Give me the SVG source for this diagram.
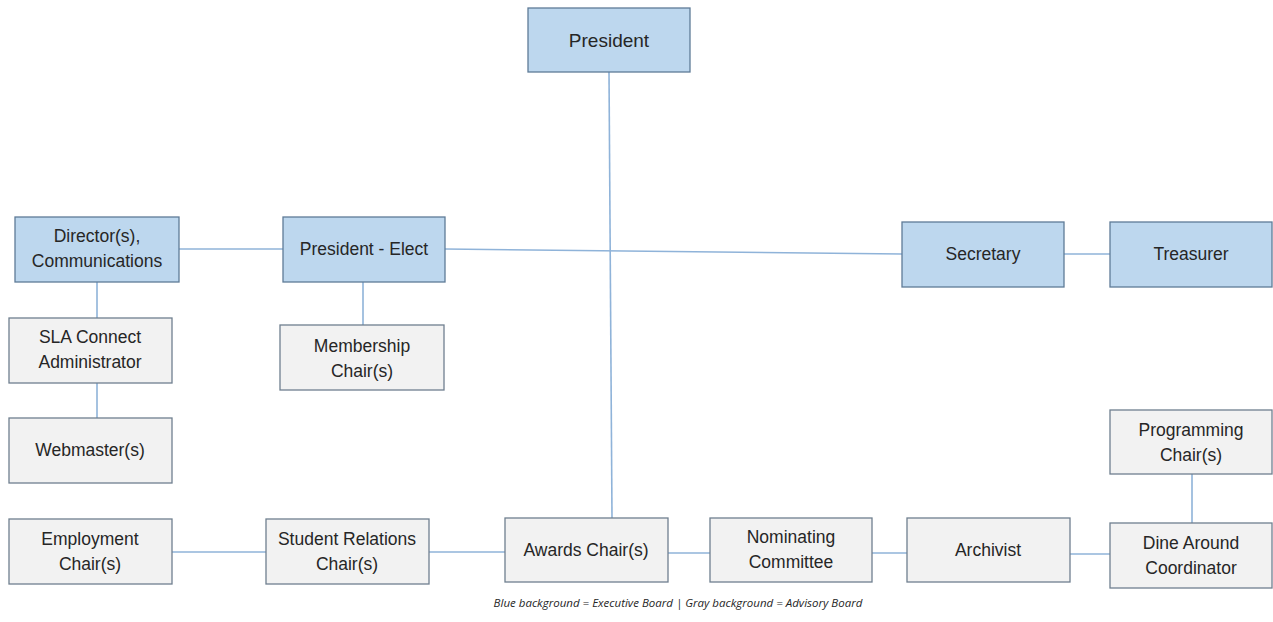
<svg xmlns="http://www.w3.org/2000/svg" width="1273" height="622" viewBox="0 0 1273 622">
<style>
.exec{fill:#bdd7ee;stroke:#5f7b97;stroke-width:1.3}
.adv{fill:#f2f2f2;stroke:#6f7f8f;stroke-width:1.3}
.t{font-family:"Liberation Sans",Arial,sans-serif;font-size:17.5px;fill:#262626;text-anchor:middle}
.c{stroke:#8fb3d9;stroke-width:1.6;fill:none}
.cap{font-family:"Open Sans","Liberation Sans",sans-serif;font-style:italic;font-size:11.5px;fill:#262626;text-anchor:middle}
</style>
<rect width="1273" height="622" fill="#ffffff"/>
<g id="connectors">
<line class="c" x1="609" y1="72" x2="612" y2="518"/>
<line class="c" x1="179" y1="249" x2="283" y2="249"/>
<line class="c" x1="445" y1="249" x2="902" y2="254"/>
<line class="c" x1="1064" y1="254" x2="1110" y2="254"/>
<line class="c" x1="97" y1="282" x2="97" y2="318"/>
<line class="c" x1="97" y1="383" x2="97" y2="418"/>
<line class="c" x1="363" y1="282" x2="363" y2="325"/>
<line class="c" x1="172" y1="552" x2="266" y2="552"/>
<line class="c" x1="429" y1="552" x2="505" y2="552"/>
<line class="c" x1="668" y1="553" x2="710" y2="553"/>
<line class="c" x1="872" y1="553" x2="907" y2="553"/>
<line class="c" x1="1070" y1="554" x2="1110" y2="554"/>
<line class="c" x1="1192" y1="474" x2="1192" y2="523"/>
</g>
<g id="president"><rect class="exec" x="528" y="8" width="162" height="64"/><text class="t" x="609" y="47" style="font-size:19px">President</text></g>
<g id="director"><rect class="exec" x="15" y="217" width="164" height="65"/><text class="t" x="97" y="242">Director(s),</text><text class="t" x="97" y="267">Communications</text></g>
<g id="president-elect"><rect class="exec" x="283" y="217" width="162" height="65"/><text class="t" x="364" y="255">President - Elect</text></g>
<g id="secretary"><rect class="exec" x="902" y="222" width="162" height="65"/><text class="t" x="983" y="260">Secretary</text></g>
<g id="treasurer"><rect class="exec" x="1110" y="222" width="162" height="65"/><text class="t" x="1191" y="260">Treasurer</text></g>
<g id="sla"><rect class="adv" x="9" y="318" width="163" height="65"/><text class="t" x="90" y="343">SLA Connect</text><text class="t" x="90" y="368">Administrator</text></g>
<g id="membership"><rect class="adv" x="280" y="325" width="164" height="65"/><text class="t" x="362" y="352">Membership</text><text class="t" x="362" y="377">Chair(s)</text></g>
<g id="webmaster"><rect class="adv" x="9" y="418" width="163" height="65"/><text class="t" x="90" y="456">Webmaster(s)</text></g>
<g id="programming"><rect class="adv" x="1110" y="410" width="162" height="64"/><text class="t" x="1191" y="436">Programming</text><text class="t" x="1191" y="461">Chair(s)</text></g>
<g id="employment"><rect class="adv" x="9" y="519" width="163" height="65"/><text class="t" x="90" y="545">Employment</text><text class="t" x="90" y="570">Chair(s)</text></g>
<g id="student"><rect class="adv" x="266" y="519" width="163" height="65"/><text class="t" x="347" y="545">Student Relations</text><text class="t" x="347" y="570">Chair(s)</text></g>
<g id="awards"><rect class="adv" x="505" y="518" width="163" height="64"/><text class="t" x="586" y="556">Awards Chair(s)</text></g>
<g id="nominating"><rect class="adv" x="710" y="518" width="162" height="64"/><text class="t" x="791" y="543">Nominating</text><text class="t" x="791" y="568">Committee</text></g>
<g id="archivist"><rect class="adv" x="907" y="518" width="163" height="64"/><text class="t" x="988" y="556">Archivist</text></g>
<g id="dine"><rect class="adv" x="1110" y="523" width="162" height="65"/><text class="t" x="1191" y="549">Dine Around</text><text class="t" x="1191" y="574">Coordinator</text></g>
<text class="cap" x="678" y="607">Blue background = Executive Board | Gray background = Advisory Board</text>
</svg>
